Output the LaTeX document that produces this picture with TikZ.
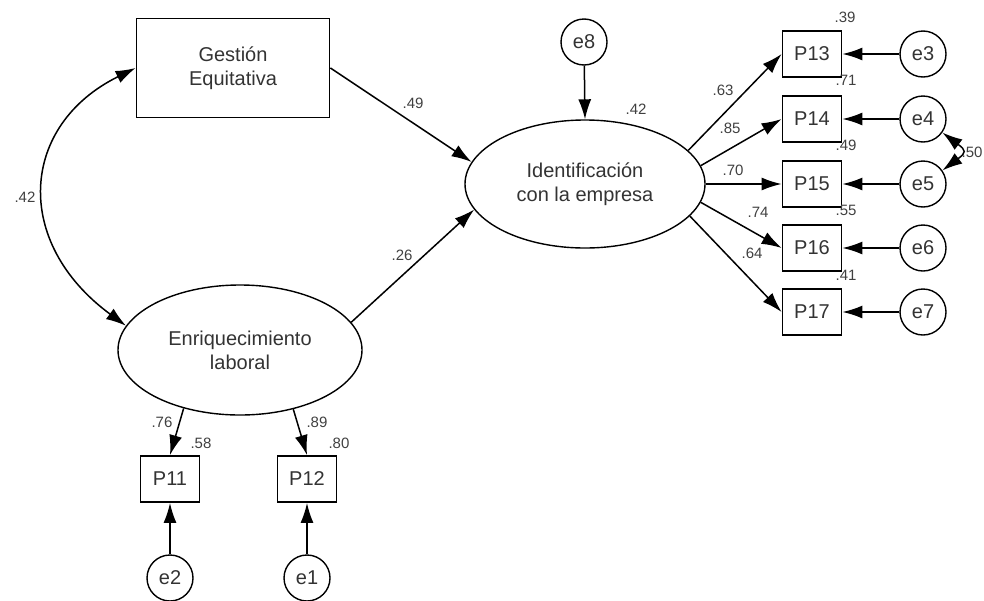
\documentclass[tikz,border=0pt]{standalone}
\usepackage{fontspec}
\setmainfont{Liberation Sans}
\usetikzlibrary{shapes.geometric}
\usetikzlibrary{arrows.meta}

\tikzset{
  txt/.style={font=\fontsize{10}{12}\selectfont,text=black!80,align=center},
  obs/.style={draw,line width=0.9pt,txt,minimum width=29.5pt,minimum height=23pt,inner sep=0pt},
  err/.style={draw,circle,line width=0.7pt,txt,minimum size=23pt,inner sep=0pt},
  lat/.style={draw,ellipse,line width=0.7pt,txt,inner sep=0pt},
  coef/.style={font=\fontsize{7.5}{9}\selectfont,text=black!75,inner sep=0pt},
  reg/.style={-{Latex[length=10pt,width=6.5pt]},line width=0.75pt},
  cov/.style={{Latex[length=10pt,width=6.5pt]}-{Latex[length=10pt,width=6.5pt]},line width=0.75pt},
}

\begin{document}
\begin{tikzpicture}[x=0.5pt,y=-0.5pt]
    \useasboundingbox (0,0) rectangle (984,600);
    %
    \node[draw,line width=0.9pt,txt,minimum width=96.5pt,minimum height=49.5pt] (gest) at (233,68) {Gestión\\Equitativa};
    \node[lat,minimum width=120pt,minimum height=64pt] (ident) at (585,184) {Identificación\\con la empresa};
    \node[lat,minimum width=122pt,minimum height=65pt] (enriq) at (240,350) {Enriquecimiento\\laboral};
    \node[err] (e8) at (584,42) {e8};
    %
    \node[obs] (p13) at (812,54) {P13};
    \node[obs] (p14) at (812,119) {P14};
    \node[obs] (p15) at (812,184) {P15};
    \node[obs] (p16) at (812,248) {P16};
    \node[obs] (p17) at (812,312) {P17};
    \node[err] (e3) at (923,54) {e3};
    \node[err] (e4) at (923,119) {e4};
    \node[err] (e5) at (923,184) {e5};
    \node[err] (e6) at (923,248) {e6};
    \node[err] (e7) at (923,312) {e7};
    %
    \node[obs] (p11) at (170,479) {P11};
    \node[obs] (p12) at (307,479) {P12};
    \node[err] (e2) at (170,578) {e2};
    \node[err] (e1) at (307,578) {e1};
    %
    \draw[reg] (gest.east) -- (ident.169);
    \draw[reg] (enriq.14) -- (ident.193);
    \draw[reg] (e8) -- (ident.north);
    \draw[cov] (gest.west) .. controls (20,125) and (12,242) .. (enriq.168);
    %
    \draw[reg] (ident.18) -- (p13.west);
    \draw[reg] (ident.9) -- (p14.west);
    \draw[reg] (ident.0) -- (p15.west);
    \draw[reg] (ident.-9) -- (p16.west);
    \draw[reg] (ident.-17) -- (p17.west);
    \foreach \e/\p in {e3/p13,e4/p14,e5/p15,e6/p16,e7/p17}
      \draw[reg] (\e) -- (\p.east);
    \draw[cov] (e4.-35) .. controls +(24,18) and +(24,-18) .. (e5.35);
    %
    \draw[reg] (enriq.226) -- (p11.north);
    \draw[reg] (enriq.312) -- (p12.north);
    \draw[reg] (e2) -- (p11.south);
    \draw[reg] (e1) -- (p12.south);
    %
    \node[coef] (c42a) at (25,197) {.42};
    \node[coef] (c49) at (413,103) {.49};
    \node[coef] (c26) at (402,255) {.26};
    \node[coef] (r42) at (636,109) {.42};
    \node[coef] (c63) at (723,90) {.63};
    \node[coef] (c85) at (730,128) {.85};
    \node[coef] (c70) at (733,170) {.70};
    \node[coef] (c74) at (758,212) {.74};
    \node[coef] (c64) at (752,253) {.64};
    \node[coef] (r39) at (845,17) {.39};
    \node[coef] (r71) at (846,80) {.71};
    \node[coef] (r49) at (846,145) {.49};
    \node[coef] (r55) at (846,210) {.55};
    \node[coef] (r41) at (846,275) {.41};
    \node[coef] (c50) at (972,152) {.50};
    \node[coef] (c76) at (162,422) {.76};
    \node[coef] (r58) at (201,443) {.58};
    \node[coef] (c89) at (317,422) {.89};
    \node[coef] (r80) at (339,443) {.80};
\end{tikzpicture}
\end{document}
